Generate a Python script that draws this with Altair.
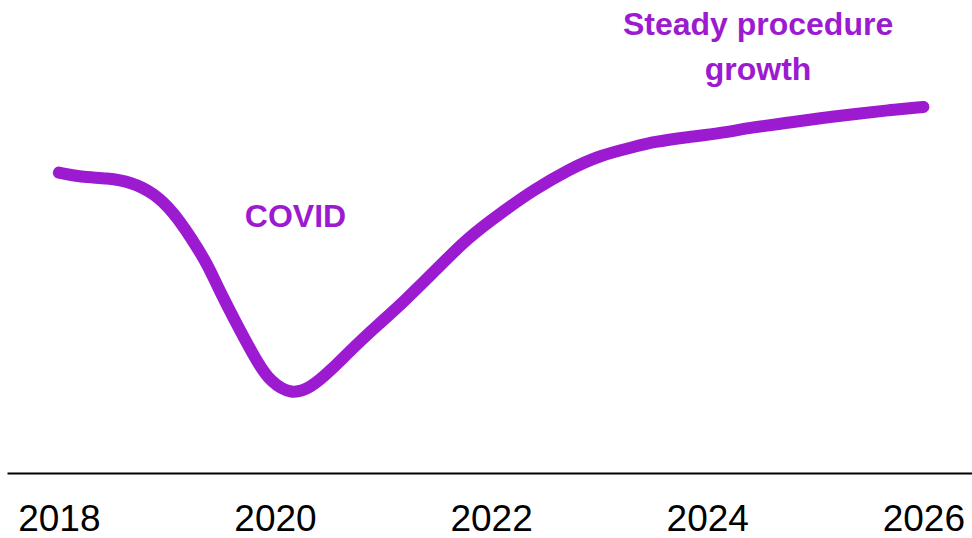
import altair as alt
import pandas as pd

# Procedure volume index (2018 = 100)
years = [2018.00, 2018.20, 2018.45, 2018.67, 2018.88, 2019.06, 2019.22, 2019.38,
         2019.47, 2019.66, 2019.84, 2019.96, 2020.15, 2020.33, 2020.52, 2020.73,
         2020.95, 2021.19, 2021.47, 2021.78, 2022.09, 2022.39, 2022.71, 2023.01,
         2023.32, 2023.50, 2023.82, 2024.12, 2024.43, 2024.74, 2025.05, 2025.35,
         2025.67, 2026.00]
index_values = [99.7, 98.2, 97.9, 96.6, 92.9, 86.6, 78.3, 69.0,
                61.7, 48.4, 36.5, 30.2, 26.0, 28.2, 34.2, 41.8,
                49.1, 56.8, 66.7, 78.0, 86.3, 93.9, 100.6, 105.5,
                108.2, 109.9, 111.5, 112.8, 114.8, 116.2, 117.8, 119.1,
                120.4, 121.5]

tick_years = [2018, 2020, 2022, 2024, 2026]

note_text = ["COVID", "Steady procedure\ngrowth"]
note_year = [2020.19, 2024.47]
note_value = [85.0, 148.7]

PURPLE = "#9c1bd0"

line_df = pd.DataFrame({"year": years, "value": index_values})
note_df = pd.DataFrame({"year": note_year, "value": note_value, "label": note_text})

x_scale = alt.Scale(domain=[2017.52, 2026.45], nice=False, zero=False)
y_scale = alt.Scale(domain=[0, 157], nice=False, zero=True)

line = alt.Chart(line_df).mark_line(
    color=PURPLE, strokeWidth=12, strokeCap="round", strokeJoin="round",
    interpolate="basis",
).encode(
    x=alt.X("year:Q", scale=x_scale,
            axis=alt.Axis(values=tick_years, format="d", title=None, grid=False,
                          ticks=False, domainColor="#000000", domainWidth=2,
                          labelFont="Liberation Sans", labelFontSize=37,
                          labelColor="#000000", labelPadding=28,
                          labelFlush=False, labelOverlap=False)),
    y=alt.Y("value:Q", scale=y_scale, axis=None),
)

notes = alt.Chart(note_df).mark_text(
    color=PURPLE, font="Liberation Sans", fontWeight="bold", fontSize=32,
    align="center", baseline="middle", lineBreak="\n", lineHeight=45,
).encode(
    x=alt.X("year:Q", scale=x_scale),
    y=alt.Y("value:Q", scale=y_scale),
    text="label:N",
)

chart = (line + notes).properties(
    width=965, height=473,
    autosize=alt.AutoSizeParams(type="none"),
    padding={"left": 7, "top": 0, "right": 0, "bottom": 65},
    background="#ffffff",
).configure_view(stroke=None, strokeWidth=0)

chart.save("out.html", embed_options={"renderer": "svg", "actions": False})
